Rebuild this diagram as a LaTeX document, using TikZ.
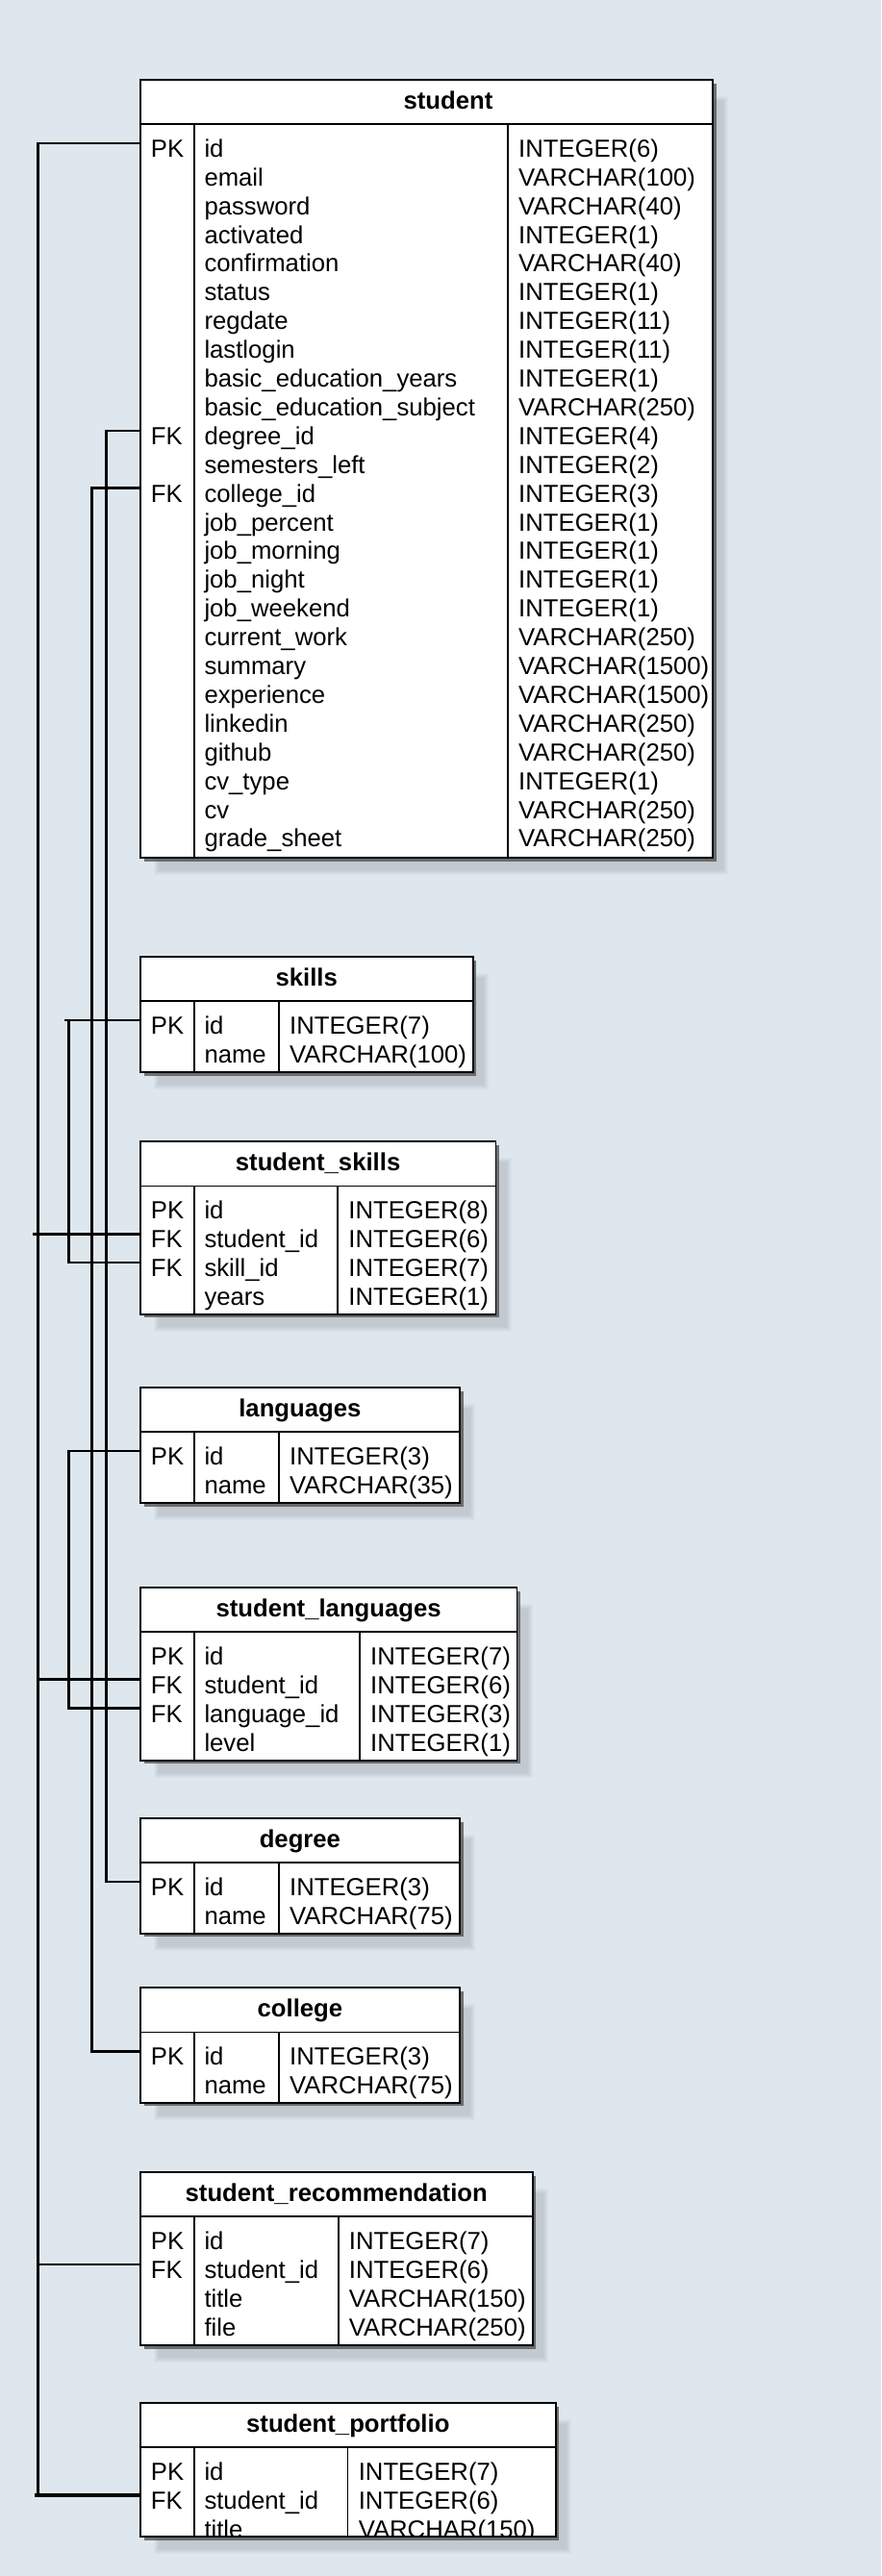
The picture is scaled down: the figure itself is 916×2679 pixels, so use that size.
\documentclass[tikz,border=0pt]{standalone}
\usepackage{fontspec}
\setmainfont{Liberation Sans}
\definecolor{bgc}{RGB}{223,231,238}
\tikzset{
  conn/.style={draw=black, line width=2.5pt},
  tbl/.style={fill=white, draw=black, line width=1.7pt},
  sep/.style={draw=black, line width=1.7pt},
  cell/.style={anchor=base west, inner sep=0pt},
  ttl/.style={anchor=base, inner sep=0pt, font=\fontsize{25.7}{30}\selectfont\bfseries},
}
% #1 name, #2 top, #3 bottom, #4 div2 x, #5 right x, #6 title centre x, #7 title, #8 rows
\newcommand\ertable[8]{%
  \foreach \s in {0,...,5}
    \fill[black, opacity=0.02] (159.7+\s, #2+17+\s) rectangle (#5+16-\s, #3+18-\s);
  \fill[black!70, opacity=0.75] (149.7, #2+4) rectangle (#5+3.5, #3+3.5);
  \path[tbl] (145.7,#2) rectangle (#5,#3);
  \draw[sep] (145.7,#2+46.3) -- (#5,#2+46.3);
  \draw[sep] (201.7,#2+46.3) -- (201.7,#3);
  \draw[sep] (#4,#2+46.3) -- (#4,#3);
  \node[ttl] (#1-title) at (#6, #2+30.6) {#7};
  \begin{scope}
    \clip (145.7,#2) rectangle (#5,#3);
    \foreach \k/\f/\t [count=\i from 0] in {#8} {
      \coordinate (#1-r\i) at (145.7, {#2+66.1+29.9*\i});
      \node[cell] (#1-k\i) at (156.7, {#2+80.6+29.9*\i}) {\k};
      \node[cell] (#1-f\i) at (212.3, {#2+80.6+29.9*\i}) {\f};
      \node[cell] (#1-t\i) at (#4+11, {#2+80.6+29.9*\i}) {\t};
    }
  \end{scope}
}
\begin{document}
\begin{tikzpicture}[x=1pt, y=-1pt, font=\fontsize{25.7}{30}\selectfont]
\useasboundingbox (0,0) rectangle (916,2679);
\fill[bgc] (0,0) rectangle (916,2679);

\ertable{st}{82.7}{892.3}{528}{741}{466}{student}{
  PK/id/INTEGER(6),
  {}/email/VARCHAR(100),
  {}/password/VARCHAR(40),
  {}/activated/INTEGER(1),
  {}/confirmation/VARCHAR(40),
  {}/status/INTEGER(1),
  {}/regdate/INTEGER(11),
  {}/lastlogin/INTEGER(11),
  {}/basic\_education\_years/INTEGER(1),
  {}/basic\_education\_subject/VARCHAR(250),
  FK/degree\_id/INTEGER(4),
  {}/semesters\_left/INTEGER(2),
  FK/college\_id/INTEGER(3),
  {}/job\_percent/INTEGER(1),
  {}/job\_morning/INTEGER(1),
  {}/job\_night/INTEGER(1),
  {}/job\_weekend/INTEGER(1),
  {}/current\_work/VARCHAR(250),
  {}/summary/VARCHAR(1500),
  {}/experience/VARCHAR(1500),
  {}/linkedin/VARCHAR(250),
  {}/github/VARCHAR(250),
  {}/cv\_type/INTEGER(1),
  {}/cv/VARCHAR(250),
  {}/grade\_sheet/VARCHAR(250)}

\ertable{sk}{995}{1115}{290}{491.7}{318.7}{skills}{
  PK/id/INTEGER(7),
  {}/name/VARCHAR(100)}

\ertable{ss}{1187.3}{1366.7}{351.2}{515.5}{330.6}{student\_skills}{
  PK/id/INTEGER(8),
  FK/student\_id/INTEGER(6),
  FK/skill\_id/INTEGER(7),
  {}/years/INTEGER(1)}

\ertable{lg}{1442.7}{1563.3}{290}{478}{311.9}{languages}{
  PK/id/INTEGER(3),
  {}/name/VARCHAR(35)}

\ertable{sl}{1650.7}{1830.7}{374}{537.5}{341.6}{student\_languages}{
  PK/id/INTEGER(7),
  FK/student\_id/INTEGER(6),
  FK/language\_id/INTEGER(3),
  {}/level/INTEGER(1)}

\ertable{dg}{1891}{2010.7}{290}{478}{311.9}{degree}{
  PK/id/INTEGER(3),
  {}/name/VARCHAR(75)}

\ertable{co}{2067.3}{2186.7}{290}{478}{311.9}{college}{
  PK/id/INTEGER(3),
  {}/name/VARCHAR(75)}

\ertable{rc}{2259}{2439}{351.7}{553.8}{349.75}{student\_recommendation}{
  PK/id/INTEGER(7),
  FK/student\_id/INTEGER(6),
  {}/title/VARCHAR(150),
  {}/file/VARCHAR(250)}

\ertable{pf}{2499}{2638.3}{361.6}{577.9}{361.8}{student\_portfolio}{
  PK/id/INTEGER(7),
  FK/student\_id/INTEGER(6),
  {}/title/VARCHAR(150)}

% bus coordinates
\coordinate (mainBus) at (39.5, 148.8);
\coordinate (mainStub) at (34, 0);
\coordinate (pfStub) at (36, 0);
\coordinate (degBus) at (110.7, 0);
\coordinate (colBus) at (95.5, 0);
\coordinate (skBus) at (71.3, 0);
\coordinate (skStub) at (66.5, 0);

% student.id -> foreign keys
\draw[conn] (st-r0) -- (mainBus) |- (ss-r1);
\draw[conn] (ss-r1) -- (ss-r1 -| mainStub);
\draw[conn] (mainBus) |- (sl-r1);
\draw[conn] (mainBus) |- (rc-r1);
\draw[conn] (mainBus) -- (mainBus |- pf-r1);
\draw[conn, line width=3.5pt] (pf-r1) -- (pf-r1 -| pfStub);

% degree and college
\draw[conn] (st-r10) -- (st-r10 -| degBus) |- (dg-r0);
\draw[conn] (st-r12) -- (st-r12 -| colBus) |- (co-r0);

% skills and languages
\draw[conn] (sk-r0 -| skStub) -- (sk-r0 -| skBus) |- (ss-r2);
\draw[conn] (sk-r0) -- (sk-r0 -| skBus);
\draw[conn] (lg-r0) -- (lg-r0 -| skBus) |- (sl-r2);
\end{tikzpicture}
\end{document}
